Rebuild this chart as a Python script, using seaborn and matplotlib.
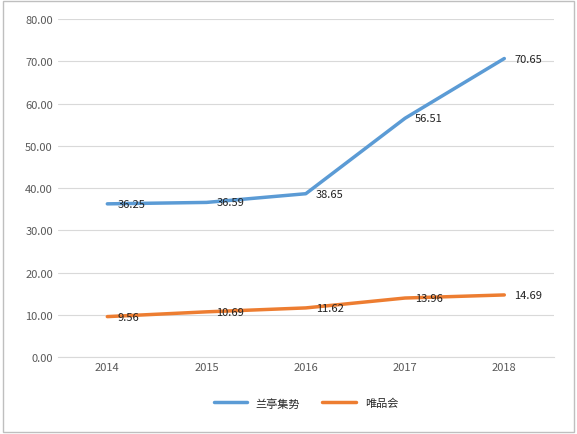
import matplotlib
matplotlib.use("Agg")
import matplotlib.pyplot as plt
import seaborn as sns
import pandas as pd

years = ["2014", "2015", "2016", "2017", "2018"]
lanting = [36.25, 36.59, 38.65, 56.51, 70.65]
vip = [9.56, 10.69, 11.62, 13.96, 14.69]
series_names = ["兰亭集势", "唯品会"]

sns.set_style("white")
plt.rcParams['font.family'] = ['Noto Sans CJK SC', 'DejaVu Sans']

df = pd.DataFrame({"year": years * 2, "value": lanting + vip,
                   "series": [series_names[0]] * 5 + [series_names[1]] * 5})

fig = plt.figure(figsize=(5.77, 4.35), dpi=100)
ax = fig.add_axes([0.1, 0.177, 0.86, 0.777])
sns.lineplot(data=df, x="year", y="value", hue="series", sort=False,
             palette=["#5B9BD5", "#ED7D31"], linewidth=2.5, ax=ax)
for vals in (lanting, vip):
    for i, v in enumerate(vals):
        ax.text(i + 0.1, v, f"{v:.2f}", fontsize=8, va="center", color="#222222")
ax.set_ylim(0, 80)
ax.set_yticks(range(0, 81, 10))
ax.set_yticklabels([f"{v:.2f}" for v in range(0, 81, 10)])
ax.set_xlim(-0.5, 4.5)
ax.yaxis.grid(True, color="#D9D9D9", linewidth=0.8)
ax.set_xlabel("")
ax.set_ylabel("")
for s in ["top", "right", "left"]:
    ax.spines[s].set_visible(False)
ax.spines["bottom"].set_color("#D9D9D9")
ax.tick_params(axis="both", labelsize=8, colors="#595959", length=0)
ax.legend(loc="upper center", bbox_to_anchor=(0.5, -0.09), ncol=2,
          frameon=False, fontsize=8, handlelength=3)
fig.patches.append(plt.Rectangle((0.005, 0.005), 0.99, 0.99, transform=fig.transFigure,
                                 fill=False, edgecolor="#BFBFBF", linewidth=1))
fig.savefig("out.png", dpi=100)
